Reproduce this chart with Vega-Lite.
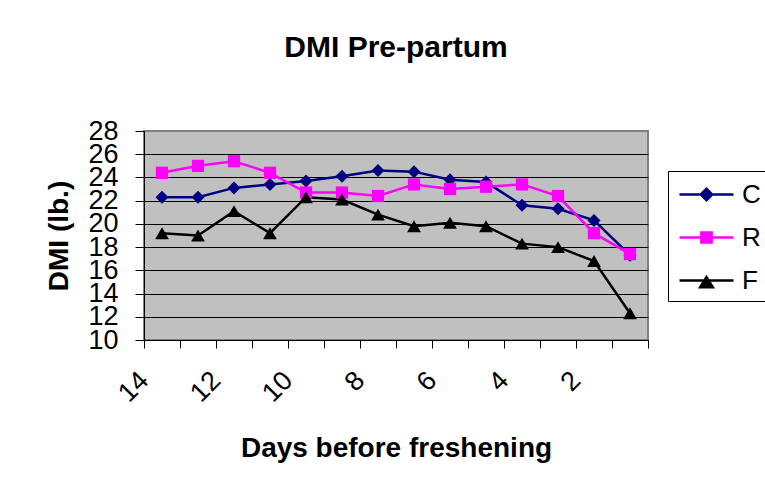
{
  "$schema": "https://vega.github.io/schema/vega-lite/v6.json",
  "width": 504,
  "height": 209,
  "autosize": {"type": "none"},
  "padding": {"left": 144, "top": 131, "right": 117, "bottom": 146},
  "background": "white",
  "config": {
    "font": "Liberation Sans",
    "view": {"fill": "#C0C0C0", "stroke": "#808080", "strokeWidth": 2}
  },
  "title": {
    "text": "DMI Pre-partum",
    "fontSize": 30,
    "fontWeight": "bold",
    "font": "Liberation Sans",
    "color": "black",
    "anchor": "middle",
    "frame": "group",
    "baseline": "alphabetic",
    "offset": 30
  },
  "data": {
    "values": [
      {"day": 14, "s": "C", "dmi": 22.3}, {"day": 13, "s": "C", "dmi": 22.3}, {"day": 12, "s": "C", "dmi": 23.1}, {"day": 11, "s": "C", "dmi": 23.4},
      {"day": 10, "s": "C", "dmi": 23.7}, {"day": 9, "s": "C", "dmi": 24.1}, {"day": 8, "s": "C", "dmi": 24.6}, {"day": 7, "s": "C", "dmi": 24.5},
      {"day": 6, "s": "C", "dmi": 23.8}, {"day": 5, "s": "C", "dmi": 23.6}, {"day": 4, "s": "C", "dmi": 21.6}, {"day": 3, "s": "C", "dmi": 21.3},
      {"day": 2, "s": "C", "dmi": 20.3}, {"day": 1, "s": "C", "dmi": 17.3},
      {"day": 14, "s": "R", "dmi": 24.4}, {"day": 13, "s": "R", "dmi": 25.0}, {"day": 12, "s": "R", "dmi": 25.4}, {"day": 11, "s": "R", "dmi": 24.4},
      {"day": 10, "s": "R", "dmi": 22.7}, {"day": 9, "s": "R", "dmi": 22.7}, {"day": 8, "s": "R", "dmi": 22.4}, {"day": 7, "s": "R", "dmi": 23.4},
      {"day": 6, "s": "R", "dmi": 23.0}, {"day": 5, "s": "R", "dmi": 23.2}, {"day": 4, "s": "R", "dmi": 23.4}, {"day": 3, "s": "R", "dmi": 22.4},
      {"day": 2, "s": "R", "dmi": 19.2}, {"day": 1, "s": "R", "dmi": 17.4},
      {"day": 14, "s": "F", "dmi": 19.2}, {"day": 13, "s": "F", "dmi": 19.0}, {"day": 12, "s": "F", "dmi": 21.1}, {"day": 11, "s": "F", "dmi": 19.2},
      {"day": 10, "s": "F", "dmi": 22.3}, {"day": 9, "s": "F", "dmi": 22.1}, {"day": 8, "s": "F", "dmi": 20.8}, {"day": 7, "s": "F", "dmi": 19.8},
      {"day": 6, "s": "F", "dmi": 20.1}, {"day": 5, "s": "F", "dmi": 19.8}, {"day": 4, "s": "F", "dmi": 18.3}, {"day": 3, "s": "F", "dmi": 18.0},
      {"day": 2, "s": "F", "dmi": 16.8}, {"day": 1, "s": "F", "dmi": 12.3}
    ]
  },
  "encoding": {
    "x": {
      "field": "day",
      "type": "quantitative",
      "scale": {"domain": [0.5, 14.5], "reverse": true, "nice": false, "zero": false},
      "axis": {
        "title": "Days before freshening",
        "titleFontSize": 28,
        "titleFontWeight": "bold",
        "titleColor": "black",
        "titlePadding": 28,
        "values": [14.5, 13.5, 12.5, 11.5, 10.5, 9.5, 8.5, 7.5, 6.5, 5.5, 4.5, 3.5, 2.5, 1.5, 0.5],
        "labelExpr": "(datum.value % 2 == 0.5 && datum.value > 1) ? '' + floor(datum.value) : ''",
        "labelAngle": -45,
        "labelAlign": "right",
        "labelBaseline": "middle",
        "labelFontSize": 27,
        "labelColor": "black",
        "labelPadding": 28,
        "labelOffset": 0,
        "labelFlush": false,
        "labelOverlap": false,
        "labelBound": false,
        "grid": false,
        "tickSize": 8,
        "tickColor": "black",
        "tickWidth": 1,
        "domainColor": "black",
        "domainWidth": 1
      }
    },
    "y": {
      "field": "dmi",
      "type": "quantitative",
      "scale": {"domain": [10, 28], "nice": false, "zero": false},
      "axis": {
        "title": "DMI (lb.)",
        "titleFontSize": 28,
        "titleFontWeight": "bold",
        "titleColor": "black",
        "titlePadding": 14,
        "values": [10, 12, 14, 16, 18, 20, 22, 24, 26, 28],
        "labelFontSize": 27,
        "labelColor": "black",
        "labelPadding": 17,
        "labelFlush": false,
        "labelOverlap": false,
        "grid": true,
        "gridColor": {"condition": {"test": "datum.value == 28", "value": "#808080"}, "value": "black"},
        "gridWidth": 1,
        "tickSize": 9,
        "tickColor": "black",
        "domainColor": "black",
        "domainWidth": 1
      }
    }
  },
  "layer": [
    {
      "mark": {"type": "line", "strokeWidth": 2.5},
      "encoding": {
        "color": {
          "field": "s", "type": "nominal",
          "scale": {"domain": ["C", "R", "F"], "range": ["#000080", "#FF00FF", "#000000"]},
          "legend": {
            "orient": "none", "legendX": 524, "legendY": 40, "title": null,
            "labelFontSize": 26, "labelColor": "black",
            "strokeColor": "black", "fillColor": "white",
            "padding": 7, "rowPadding": 13, "labelOffset": 19, "symbolOffset": 15,
            "symbolSize": 900, "symbolStrokeWidth": 2.5, "symbolOpacity": 1,
            "encode": {
              "symbols": {
                "update": {
                  "shape": {"signal": "datum.value == 'C' ? 'M-1.8,0L1.8,0M-0.38,0L0,-0.38L0.38,0L0,0.38Z' : datum.value == 'R' ? 'M-1.8,0L1.8,0M-0.34,-0.34L0.34,-0.34L0.34,0.34L-0.34,0.34Z' : 'M-1.8,0L1.8,0M-0.42,0.45L0,-0.22L0.42,0.45Z'"},
                  "fill": {"signal": "datum.value == 'C' ? '#000080' : datum.value == 'R' ? '#FF00FF' : '#000000'"},
                  "stroke": {"signal": "datum.value == 'C' ? '#000080' : datum.value == 'R' ? '#FF00FF' : '#000000'"},
                  "size": {"value": 900},
                  "strokeWidth": {"value": 2.5},
                  "opacity": {"value": 1},
                  "fillOpacity": {"value": 1},
                  "strokeOpacity": {"value": 1}
                }
              }
            }
          }
        }
      }
    },
    {
      "transform": [{"filter": "datum.s == 'C'"}],
      "mark": {"type": "point", "filled": true, "opacity": 1, "size": 169, "shape": "diamond"},
      "encoding": {
        "color": {"field": "s", "type": "nominal"}
      }
    },
    {
      "transform": [{"filter": "datum.s == 'R'"}],
      "mark": {"type": "point", "filled": true, "opacity": 1, "size": 150, "shape": "square"},
      "encoding": {
        "color": {"field": "s", "type": "nominal"}
      }
    },
    {
      "transform": [{"filter": "datum.s == 'F'"}],
      "mark": {"type": "point", "filled": true, "opacity": 1, "size": 190, "shape": "triangle-up"},
      "encoding": {
        "color": {"field": "s", "type": "nominal"}
      }
    }
  ]
}
